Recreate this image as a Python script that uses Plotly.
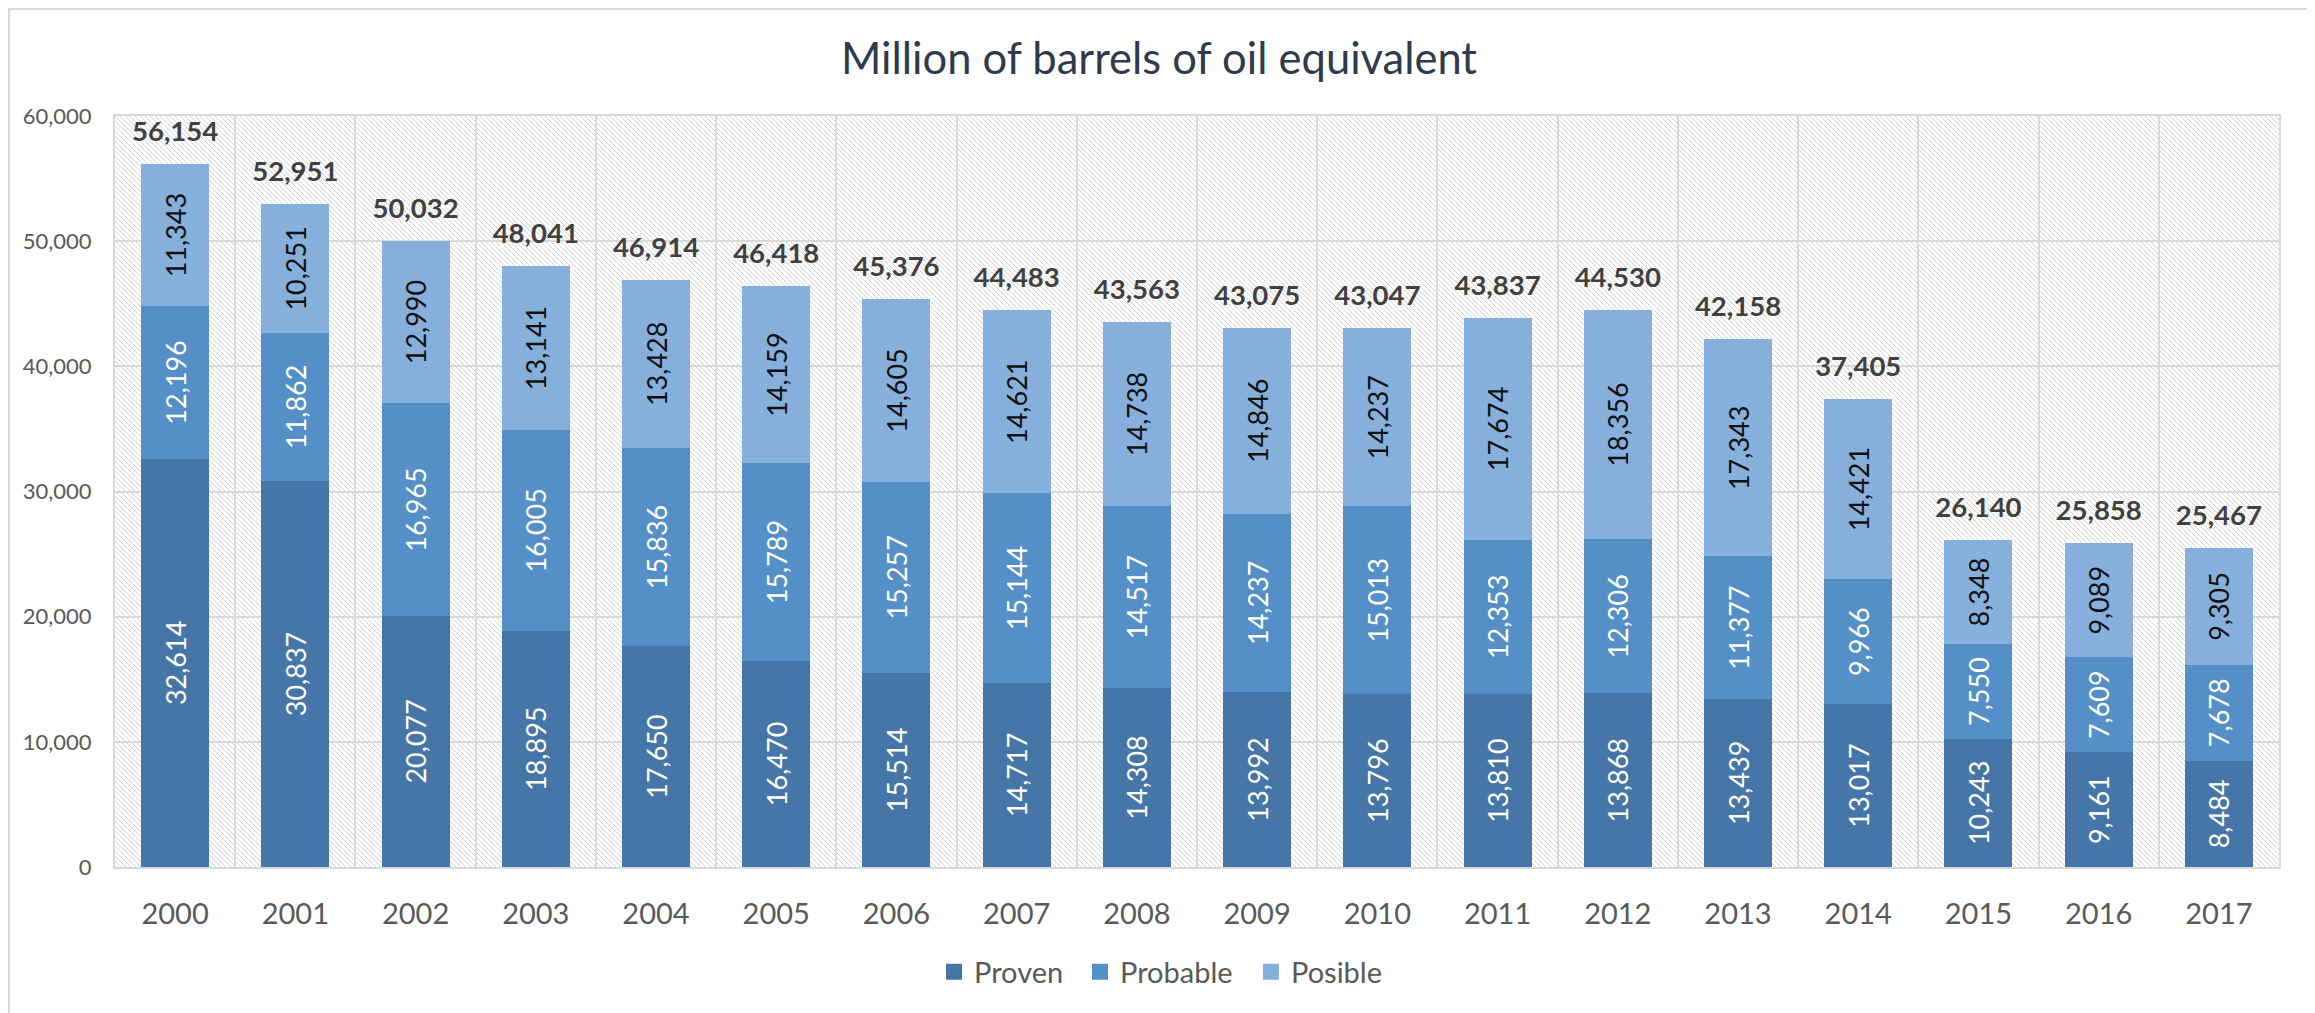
import base64
import plotly.graph_objects as go

years = [str(y) for y in range(2000, 2018)]
proven = [32614, 30837, 20077, 18895, 17650, 16470, 15514, 14717, 14308,
          13992, 13796, 13810, 13868, 13439, 13017, 10243, 9161, 8484]
probable = [12196, 11862, 16965, 16005, 15836, 15789, 15257, 15144, 14517,
            14237, 15013, 12353, 12306, 11377, 9966, 7550, 7609, 7678]
posible = [11343, 10251, 12990, 13141, 13428, 14159, 14605, 14621, 14738,
           14846, 14237, 17674, 18356, 17343, 14421, 8348, 9089, 9305]
totals = [56154, 52951, 50032, 48041, 46914, 46418, 45376, 44483, 43563,
          43075, 43047, 43837, 44530, 42158, 37405, 26140, 25858, 25467]

# page is 2315x1013, the figure div sits at an (8, 8) body offset
OFF = 8
W, H = 2315 - OFF, 1013 - OFF
# plot area in page coords: x 115..2279, y 116..867
ML, MR = 115 - OFF, 2315 - 2279
MT, MB = 116 - OFF, 1013 - 867
PW, PH = W - ML - MR, H - MT - MB


def px_x(page_x):
    return (page_x - OFF - ML) / PW


def px_y(page_y):
    return (H - MB - (page_y - OFF)) / PH


FONT = "Lato"
C_PROVEN = "#4676a7"
C_PROB = "#548fc7"
C_POS = "#86afdb"

fig = go.Figure()

series = [("Proven", proven, C_PROVEN, "#ffffff", 101),
          ("Probable", probable, C_PROB, "#ffffff", 126),
          ("Posible", posible, C_POS, "#111111", 100)]
for name, vals, col, tcol, lw in series:
    fig.add_trace(go.Bar(
        name=name, x=years, y=vals,
        marker=dict(color=col, line=dict(width=0)),
        text=[f"{v:,}" for v in vals],
        textposition="inside", insidetextanchor="middle",
        textangle=-90,
        insidetextfont=dict(family=FONT, size=27, color=tcol),
        constraintext="none",
        hoverinfo="x+y+name", showlegend=False,
    ))
    # legend entry with a larger square swatch
    fig.add_trace(go.Scatter(
        name=name, x=[None], y=[None], mode="markers",
        marker=dict(symbol="square", size=16, color=col),
        showlegend=True, hoverinfo="skip", legendwidth=lw,
    ))

fig.add_trace(go.Scatter(
    x=years, y=totals, mode="markers+text",
    text=[f"{v:,}" for v in totals], textposition="top center",
    marker=dict(size=24, opacity=0),
    textfont=dict(family=FONT, size=27.5, color="#404040", weight="bold"),
    showlegend=False, hoverinfo="skip",
))

svg = (f'<svg xmlns="http://www.w3.org/2000/svg" width="{PW}" height="{PH}">'
       '<defs><pattern id="h" patternUnits="userSpaceOnUse" width="5" height="5">'
       '<path d="M-1,-1L6,6M-1,4L1,6M4,-1L6,1" stroke="#d2d2d2" stroke-width="1"/>'
       '</pattern></defs>'
       '<rect width="100%" height="100%" fill="#ffffff"/>'
       '<rect width="100%" height="100%" fill="url(#h)"/></svg>')
src = "data:image/svg+xml;base64," + base64.b64encode(svg.encode()).decode()

fig.update_layout(
    width=W, height=H,
    margin=dict(l=ML, r=MR, t=MT, b=MB, autoexpand=False),
    paper_bgcolor="#ffffff", plot_bgcolor="#ffffff",
    barmode="stack", bargap=0.434,
    title=dict(text="Million of barrels of oil equivalent",
               font=dict(family=FONT, size=43.5, color="#2f3b4c"),
               x=(1159 - OFF) / W, xref="container", xanchor="center",
               y=1 - (59 - OFF) / H, yanchor="middle"),
    font=dict(family=FONT, color="#595959"),
    legend=dict(orientation="h", x=px_x(934), xanchor="left",
                y=px_y(972), yanchor="middle",
                font=dict(family=FONT, size=29, color="#595959"),
                traceorder="normal", itemclick=False, itemdoubleclick=False),
    xaxis=dict(type="category", range=[-0.5, len(years) - 0.5],
               tickson="boundaries", showgrid=True,
               gridcolor="#d9d9d9", gridwidth=2, ticks="",
               showline=True, linecolor="#d9d9d9", linewidth=2, mirror=True,
               tickfont=dict(family=FONT, size=29, color="#595959"),
               ticklabelstandoff=20),
    yaxis=dict(range=[0, 60000], dtick=10000, tickformat=",",
               showgrid=True, gridcolor="#d9d9d9", gridwidth=2,
               zeroline=False, ticks="",
               showline=True, linecolor="#d9d9d9", linewidth=2, mirror=True,
               tickfont=dict(family=FONT, size=22, color="#595959"),
               ticklabelstandoff=17),
    images=[dict(source=src, xref="paper", yref="paper", x=0, y=1,
                 sizex=1, sizey=1, xanchor="left", yanchor="top",
                 sizing="stretch", layer="below")],
    shapes=[dict(type="rect", xref="paper", yref="paper",
                 x0=px_x(9), x1=px_x(2308),
                 y0=px_y(1016), y1=px_y(OFF + 1),
                 line=dict(color="#d9d9d9", width=2), fillcolor="rgba(0,0,0,0)",
                 layer="below")],
)

fig.write_html("out.html")
